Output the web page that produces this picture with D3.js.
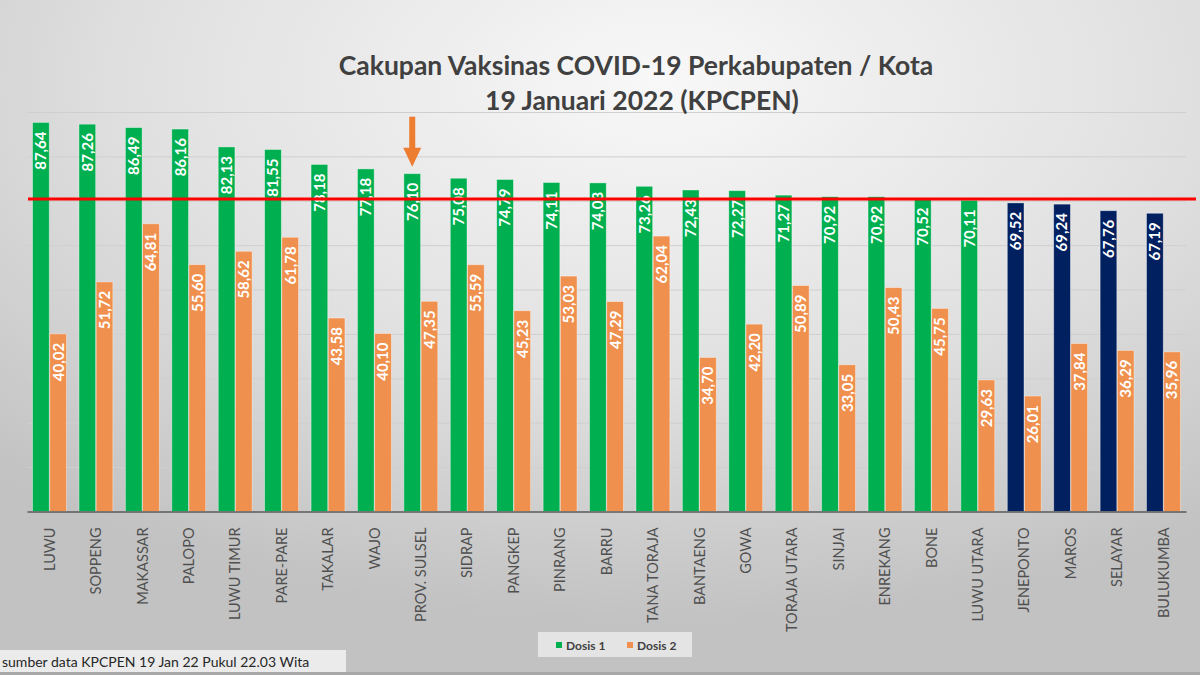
<!DOCTYPE html>
<html>
<head>
<meta charset="utf-8">
<script src="https://cdn.jsdelivr.net/npm/d3@7"></script>
<style>
  html, body { margin: 0; padding: 0; background: #d8d8d8; }
  svg { display: block; font-family: Lato, "Open Sans", sans-serif; }
</style>
</head>
<body>
<svg id="chart"></svg>
<script>
// Chart data
const categories = ["LUWU", "SOPPENG", "MAKASSAR", "PALOPO", "LUWU TIMUR", "PARE-PARE", "TAKALAR",
    "WAJO", "PROV. SULSEL", "SIDRAP", "PANGKEP", "PINRANG", "BARRU", "TANA TORAJA", "BANTAENG",
    "GOWA", "TORAJA UTARA", "SINJAI", "ENREKANG", "BONE", "LUWU UTARA", "JENEPONTO", "MAROS",
    "SELAYAR", "BULUKUMBA"];
const dosis1 = [87.64, 87.26, 86.49, 86.16, 82.13, 81.55, 78.18, 77.18, 76.10, 75.08, 74.79, 74.11,
    74.03, 73.26, 72.43, 72.27, 71.27, 70.92, 70.92, 70.52, 70.11, 69.52, 69.24, 67.76, 67.19];
const dosis2 = [40.02, 51.72, 64.81, 55.60, 58.62, 61.78, 43.58, 40.10, 47.35, 55.59, 45.23, 53.03,
    47.29, 62.04, 34.70, 42.20, 50.89, 33.05, 50.43, 45.75, 29.63, 26.01, 37.84, 36.29, 35.96];
const seriesNames = ["Dosis 1", "Dosis 2"];
const yTicks = [10, 20, 30, 40, 50, 60, 70, 80, 90];
const target = 70;          // bars of Dosis 1 below this are drawn in navy
const targetLine = 70.4;    // red reference line
const markedCategory = "PROV. SULSEL";

const W = 1200, H = 675;
const colors = { "Dosis 1": "#00b050", "Dosis 2": "#f0904e", below: "#002060" };

const svg = d3.select("#chart").attr("width", W).attr("height", H);

// Background gradient
const defs = svg.append("defs");
const bg = defs.append("radialGradient")
    .attr("id", "bg")
    .attr("cx", "55%").attr("cy", "12%")
    .attr("r", "80%")
    .attr("gradientUnits", "objectBoundingBox");
bg.append("stop").attr("offset", "0%").attr("stop-color", "#f8f8f8");
bg.append("stop").attr("offset", "55%").attr("stop-color", "#e0e0e0");
bg.append("stop").attr("offset", "100%").attr("stop-color", "#c2c2c2");

svg.append("rect").attr("width", W).attr("height", H).attr("fill", "url(#bg)");
svg.append("rect").attr("x", 0).attr("y", 672).attr("width", W).attr("height", 3).attr("fill", "#a8a8a8");

// Scales
const x0 = d3.scaleBand()
    .domain(categories)
    .range([27, 1186])
    .paddingInner(0.27)
    .paddingOuter(0.12);

const x1 = d3.scaleBand()
    .domain(seriesNames)
    .range([0, x0.bandwidth()])
    .paddingInner(0.03);

const y = d3.scaleLinear()
    .domain([0, 90])
    .range([511.5, 112]);

// Grid lines
svg.append("g")
    .attr("transform", "translate(27,0)")
    .call(d3.axisLeft(y).tickValues(yTicks).tickSize(-(1186 - 27)).tickFormat(""))
    .call(g => g.select(".domain").remove())
    .call(g => g.selectAll("line").attr("stroke", "#cfcfcf").attr("stroke-width", 1));

// Build table for bars
const rows = categories.map((c, i) => ({ category: c, values: [dosis1[i], dosis2[i]] }));

const groups = svg.append("g").selectAll("g")
    .data(rows)
    .enter().append("g")
    .attr("transform", d => "translate(" + x0(d.category) + ",0)");

const bars = groups.selectAll("g.bar")
    .data(d => d.values.map((v, j) => ({ series: seriesNames[j], value: v })))
    .enter().append("g")
    .attr("class", "bar");

bars.append("rect")
    .attr("x", d => x1(d.series))
    .attr("width", x1.bandwidth())
    .attr("y", d => y(d.value))
    .attr("height", d => y(0) - y(d.value))
    .attr("fill", d => (d.series === "Dosis 1" && d.value < target) ? colors.below : colors[d.series])
    .attr("stroke", "rgba(255,255,255,0.45)")
    .attr("stroke-width", 0.8);

// Value labels inside the bars, rotated
bars.append("text")
    .attr("transform", d => "translate(" + (x1(d.series) + x1.bandwidth() / 2) + "," + (y(d.value) + 9) + ") rotate(-90)")
    .attr("text-anchor", "end")
    .attr("dy", "0.36em")
    .style("font-size", "15px")
    .style("font-weight", "bold")
    .style("fill", "#ffffff")
    .text(d => d.value.toFixed(2).replace(".", ","));

// X axis
const xAxis = svg.append("g")
    .attr("transform", "translate(0," + y(0) + ")")
    .call(d3.axisBottom(x0).tickSize(0).tickPadding(0));
xAxis.select(".domain").attr("stroke", "#5a5a5a").attr("stroke-width", 1.6);
xAxis.selectAll("text")
    .attr("transform", "translate(0,16) rotate(-90)")
    .attr("text-anchor", "end")
    .attr("x", 0)
    .attr("y", 0)
    .attr("dy", "0.36em")
    .style("font-family", "Lato, sans-serif")
    .style("font-size", "14.5px")
    .style("fill", "#505050");

// Red target line
svg.append("line")
    .attr("x1", 28).attr("x2", 1196)
    .attr("y1", y(targetLine)).attr("y2", y(targetLine))
    .attr("stroke", "#ff0000")
    .attr("stroke-width", 3);

// Arrow pointing at the province bar
const ax = x0(markedCategory) + x1("Dosis 1") + x1.bandwidth() / 2;
const atip = y(dosis1[categories.indexOf(markedCategory)]) - 7;
const arrow = svg.append("g").attr("fill", "#ed7d31");
arrow.append("rect").attr("x", ax - 3).attr("y", atip - 50).attr("width", 6).attr("height", 32);
arrow.append("path")
    .attr("d", "M" + (ax - 9) + "," + (atip - 19) + " L" + (ax + 9) + "," + (atip - 19) + " L" + ax + "," + atip + " Z");

// Title
const title = svg.append("text")
    .attr("text-anchor", "middle")
    .style("font-size", "26.5px")
    .style("font-weight", "bold")
    .style("fill", "#404040");
title.append("tspan").attr("x", 636).attr("y", 75).text("Cakupan Vaksinas COVID-19 Perkabupaten / Kota");
title.append("tspan").attr("x", 642).attr("y", 110).text("19 Januari 2022 (KPCPEN)");

// Legend
const legend = svg.append("g");
legend.append("rect")
    .attr("x", 538).attr("y", 632).attr("width", 154).attr("height", 25)
    .attr("fill", "#ececec").attr("opacity", 0.8);
const legendItems = legend.selectAll("g.item")
    .data(seriesNames)
    .enter().append("g")
    .attr("class", "item")
    .attr("transform", (d, i) => "translate(" + (556 + i * 71) + ",0)");
legendItems.append("rect")
    .attr("x", 0).attr("y", 642).attr("width", 6).attr("height", 6)
    .attr("fill", d => colors[d]);
legendItems.append("text")
    .attr("x", 10).attr("y", 650)
    .style("font-size", "12px")
    .style("font-weight", "bold")
    .style("fill", "#404040")
    .text(d => d);

// Source note
svg.append("rect")
    .attr("x", 0).attr("y", 650).attr("width", 346).attr("height", 22)
    .attr("fill", "#f0f0f0").attr("opacity", 0.9);
svg.append("text")
    .attr("x", 2).attr("y", 667)
    .style("font-size", "14px")
    .style("fill", "#262626")
    .text("sumber data KPCPEN 19 Jan 22 Pukul 22.03 Wita");
</script>
</body>
</html>
